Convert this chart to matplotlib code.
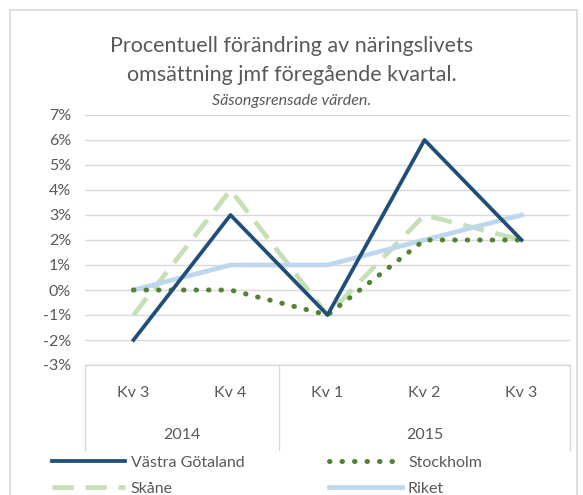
import numpy as np
import matplotlib
matplotlib.use('Agg')
import matplotlib.pyplot as plt
from matplotlib.lines import Line2D
from matplotlib.patches import Rectangle
plt.rcParams['font.family'] = ['Lato', 'DejaVu Sans']

quarters = ['Kv 3', 'Kv 4', 'Kv 1', 'Kv 2', 'Kv 3']
years = ['2014', '2015']
year_spans = [2, 3]
vastra_gotaland = [-2, 3, -1, 6, 2]
stockholm = [0, 0, -1, 2, 2]
skane = [-1, 4, -1, 3, 2]
riket = [0, 1, 1, 2, 3]

W, H = 583, 495
fig = plt.figure(figsize=(W / 100, H / 100), dpi=100)

# chart frame (cut off at the bottom, as in the reference)
fig.patches.append(Rectangle((10 / W, -0.1), 567 / W, 1.1 - 10 / H,
                             transform=fig.transFigure, fill=False,
                             edgecolor='#d9d9d9', lw=1.2))

ax = fig.add_axes([85 / W, (H - 365) / H, 485 / W, 250 / H])
x = np.arange(len(quarters))

dot_style = (0, (0.1, 2.4))

ax.plot(x, skane, color='#c5e0b4', lw=3.4, dashes=(4.5, 2.5),
        label='Skåne', zorder=3)
ax.plot(x, riket, color='#bdd7ee', lw=3.4, label='Riket', zorder=3)
ax.plot(x, stockholm, color='#548235', lw=3.6, linestyle=dot_style,
        dash_capstyle='round', label='Stockholm', zorder=4)
ax.plot(x, vastra_gotaland, color='#1f4e79', lw=2.7, label='Västra Götaland',
        zorder=5)

ax.set_xlim(-0.5, len(quarters) - 0.5)
ax.set_ylim(-3, 7)
ax.set_yticks(range(-3, 8))
ax.set_yticklabels([f'{v}%' for v in range(-3, 8)])
ax.grid(axis='y', color='#d9d9d9', lw=1)
ax.set_axisbelow(True)
ax.tick_params(axis='y', length=0, labelsize=11.5, labelcolor='#595959',
               pad=10)
ax.set_xticks([])
for s in ax.spines.values():
    s.set_visible(False)

# multi-level category axis
tr = ax.get_xaxis_transform()
sep_bottom = -(450 - 365) / 250
ax.plot([-0.5, len(quarters) - 0.5], [0, 0], color='#d9d9d9', lw=1,
        transform=tr, clip_on=False)
edges = np.concatenate([[0], np.cumsum(year_spans)]) - 0.5
for e in edges:
    ax.plot([e, e], [0, sep_bottom], color='#d9d9d9', lw=1, transform=tr,
            clip_on=False)
for i, q in enumerate(quarters):
    ax.text(i, -(393 - 365) / 250, q, transform=tr, ha='center', va='center',
            fontsize=11.5, color='#595959')
for j, yr in enumerate(years):
    ax.text((edges[j] + edges[j + 1]) / 2, -(435 - 365) / 250, yr,
            transform=tr, ha='center', va='center', fontsize=11.5,
            color='#595959')

# titles
fig.text(0.5, 1 - 46 / H, 'Procentuell förändring av näringslivets',
         ha='center', va='center', fontsize=15.5, color='#595959')
fig.text(0.5, 1 - 75 / H, 'omsättning jmf föregående kvartal.',
         ha='center', va='center', fontsize=15.5, color='#595959')
fig.text(0.5, 1 - 101 / H, 'Säsongsrensade värden.', ha='center',
         va='center', fontsize=11.5, style='italic', color='#595959')

# legend (column-major order so rows read VG, Stockholm / Skåne, Riket)
handles = [
    Line2D([], [], color='#1f4e79', lw=2.7),
    Line2D([], [], color='#c5e0b4', lw=3.4, dashes=(4.5, 2.5)),
    Line2D([], [], color='#548235', lw=3.6, linestyle=dot_style,
           dash_capstyle='round'),
    Line2D([], [], color='#bdd7ee', lw=3.4),
]
labels = ['Västra Götaland', 'Skåne', 'Stockholm', 'Riket']
fig.legend(handles, labels, ncol=2, loc='upper left',
           bbox_to_anchor=(42 / W, 1 - 446 / H), frameon=False,
           fontsize=11.5, handlelength=4.6, handletextpad=0.35,
           columnspacing=5.3, labelspacing=0.75, labelcolor='#595959',
           borderaxespad=0.2)

plt.savefig('out.png', dpi=100)
plt.close()
